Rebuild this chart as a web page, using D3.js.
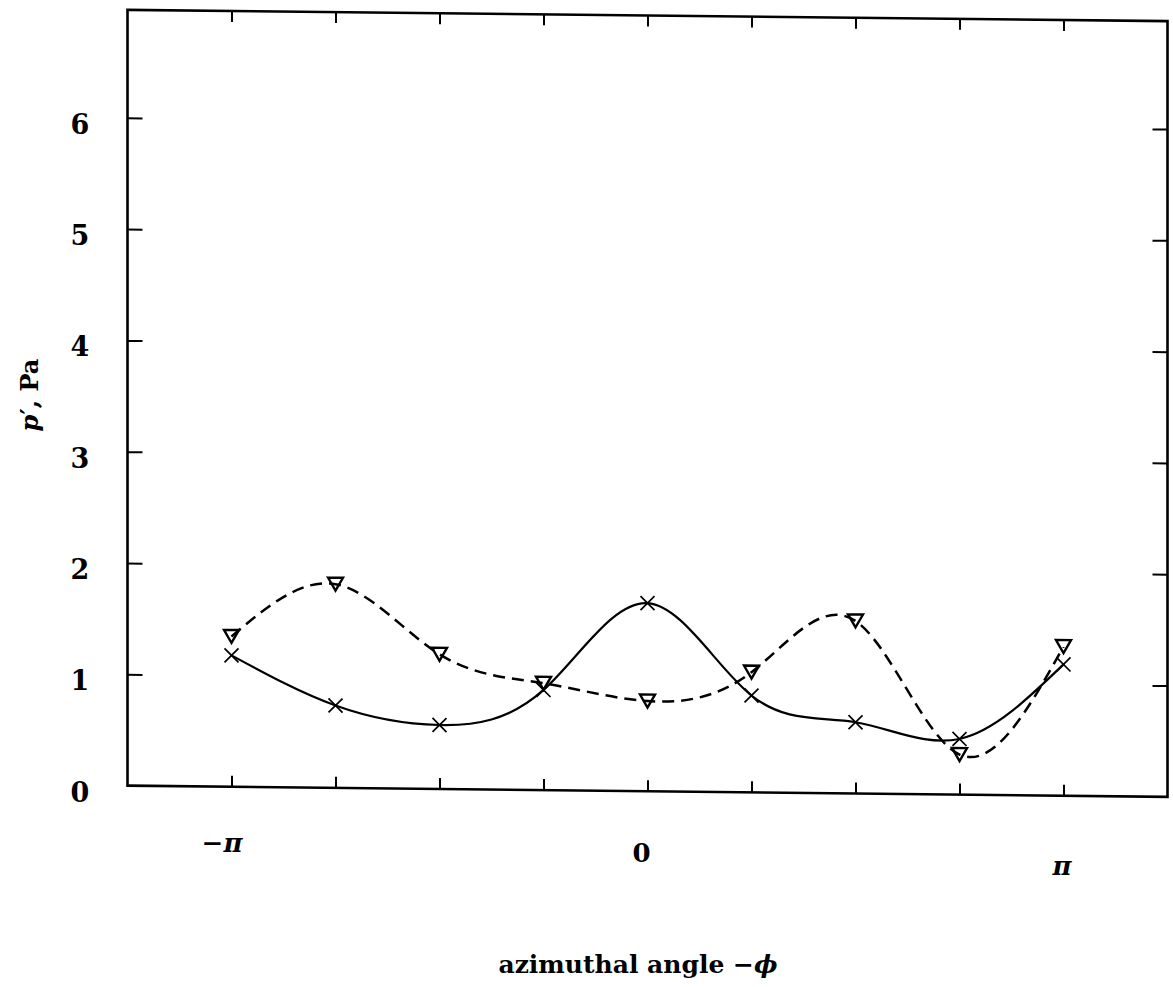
<!DOCTYPE html>
<html>
<head>
<meta charset="utf-8">
<script src="https://cdn.jsdelivr.net/npm/d3@7/dist/d3.min.js"></script>
<style>
  body { margin: 0; background: #fff; }
  text { font-family: "DejaVu Serif", "Liberation Serif", serif; font-weight: bold; fill: #000; }
</style>
</head>
<body>
<svg id="chart" width="1173" height="987"></svg>
<script>
// Microphone azimuth, in multiples of π
const anglesPi = [-1, -0.75, -0.5, -0.25, 0, 0.25, 0.5, 0.75, 1];
// Pressure amplitude p′ (Pa): solid curve, × markers
const crossValues = [1.18, 0.74, 0.575, 0.90, 1.69, 0.87, 0.64, 0.50, 1.18];
// Pressure amplitude p′ (Pa): dashed curve, ▽ markers
const triangleValues = [1.35, 1.83, 1.21, 0.96, 0.81, 1.08, 1.55, 0.36, 1.34];

// Axis ticks and labels
const xTickValues = [-1, -0.75, -0.5, -0.25, 0, 0.25, 0.5, 0.75, 1];
const xLabelValues = [-1, 0, 1];
const xLabelTexts = [["−", "π"], ["", "0"], ["", "π"]];
const yTickValues = [1, 2, 3, 4, 5, 6];
const yLabelValues = [0, 1, 2, 3, 4, 5, 6];

// Layout
const frameLeft = 127.5, frameRight = 1167.5;
const zeroY = 785.6, pxPerPa = 111.3, yMax = 6.97;
const skewDeg = 0.62;
const xLabelLayout = [
  { dx: -9.5, baseline: 852 },
  { dx: -6,   baseline: 862 },
  { dx: -1.5, baseline: 875 }
];

const svg = d3.select("#chart");

const x = d3.scaleLinear().domain([-1.25, 1.25]).range([frameLeft, frameRight]);
const y = d3.scaleLinear().domain([0, yMax]).range([zeroY, zeroY - yMax * pxPerPa]);

// Plot body (frame, ticks, curves, markers), slightly sheared
const plot = svg.append("g")
  .attr("transform", `translate(${frameLeft},0) skewY(${skewDeg}) translate(${-frameLeft},0)`);

plot.append("rect")
  .attr("x", x(-1.25)).attr("y", y(yMax))
  .attr("width", x(1.25) - x(-1.25)).attr("height", y(0) - y(yMax))
  .attr("fill", "none").attr("stroke", "#000").attr("stroke-width", 2.6);

function styleAxis(g) {
  g.select(".domain").remove();
  g.selectAll(".tick line").attr("stroke", "#000").attr("stroke-width", 2);
  g.selectAll(".tick text").remove();
}

plot.append("g").attr("transform", `translate(0,${y(0)})`)
  .call(d3.axisBottom(x).tickValues(xTickValues).tickSize(-11).tickFormat(""))
  .call(styleAxis);
plot.append("g").attr("transform", `translate(0,${y(yMax)})`)
  .call(d3.axisTop(x).tickValues(xTickValues).tickSize(-11).tickFormat(""))
  .call(styleAxis);
plot.append("g").attr("transform", `translate(${x(-1.25)},0)`)
  .call(d3.axisLeft(y).tickValues(yTickValues).tickSize(-15).tickFormat(""))
  .call(styleAxis);
plot.append("g").attr("transform", `translate(${x(1.25)},0)`)
  .call(d3.axisRight(y).tickValues(yTickValues).tickSize(-15).tickFormat(""))
  .call(styleAxis);

const line = d3.line()
  .x((d, i) => x(anglesPi[i]))
  .y(d => y(d))
  .curve(d3.curveNatural);

plot.append("path")
  .datum(crossValues)
  .attr("d", line)
  .attr("fill", "none").attr("stroke", "#000").attr("stroke-width", 2.2);

plot.append("path")
  .datum(triangleValues)
  .attr("d", line)
  .attr("fill", "none").attr("stroke", "#000").attr("stroke-width", 2.5)
  .attr("stroke-dasharray", "12,7");

plot.append("g").selectAll("path")
  .data(crossValues)
  .join("path")
  .attr("transform", (d, i) => `translate(${x(anglesPi[i])},${y(d)})`)
  .attr("d", "M-7,-7L7,7M-7,7L7,-7")
  .attr("fill", "none").attr("stroke", "#000").attr("stroke-width", 1.7);

plot.append("g").selectAll("path")
  .data(triangleValues)
  .join("path")
  .attr("transform", (d, i) => `translate(${x(anglesPi[i])},${y(d)})`)
  .attr("d", "M-7.5,-6.5L7.5,-6.5L0,6.5Z")
  .attr("fill", "none").attr("stroke", "#000").attr("stroke-width", 2.4)
  .attr("stroke-linejoin", "miter");

// Y tick labels
svg.append("g").selectAll("text")
  .data(yLabelValues)
  .join("text")
  .attr("x", 80)
  .attr("y", d => y(d) + 16)
  .attr("text-anchor", "middle")
  .attr("font-size", 27)
  .text(d => d);

// X tick labels (π set in italic, as in math mode)
const xLabels = svg.append("g").selectAll("text")
  .data(xLabelValues)
  .join("text")
  .attr("x", (d, i) => x(d) + xLabelLayout[i].dx)
  .attr("y", (d, i) => xLabelLayout[i].baseline)
  .attr("text-anchor", "middle")
  .attr("font-size", 26);
xLabels.append("tspan").text((d, i) => xLabelTexts[i][0]);
xLabels.append("tspan")
  .attr("font-style", (d, i) => xLabelTexts[i][1] === "π" ? "italic" : null)
  .text((d, i) => xLabelTexts[i][1]);

// Axis titles
const yTitle = svg.append("text")
  .attr("transform", "translate(38,395) rotate(-90)")
  .attr("text-anchor", "middle")
  .attr("font-size", 24);
yTitle.append("tspan").attr("font-style", "italic").text("p");
yTitle.append("tspan").text("′, Pa");

const xTitle = svg.append("text")
  .attr("x", 638).attr("y", 973)
  .attr("text-anchor", "middle")
  .attr("font-size", 25);
xTitle.append("tspan").text("azimuthal angle −");
xTitle.append("tspan").attr("font-style", "italic").text("ϕ");
</script>
</body>
</html>
